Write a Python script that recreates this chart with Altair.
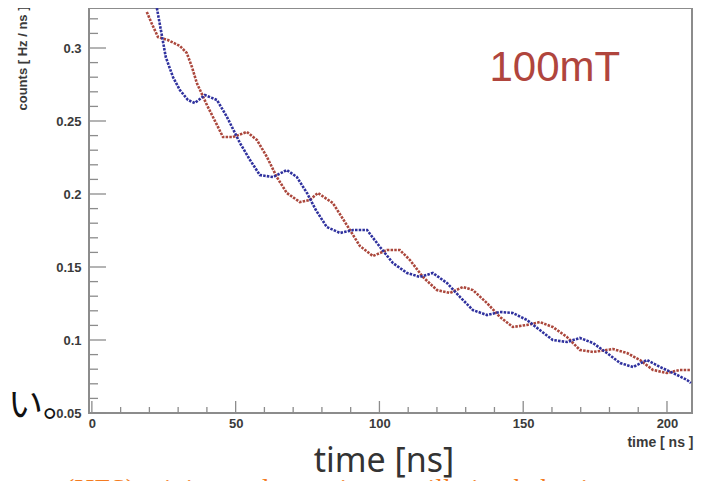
import altair as alt
import pandas as pd

# ---- data (time in ns, counts in Hz/ns) ----
red_t = [19.1, 20.9, 23.0, 26.4, 30.6, 33.0, 34.8, 36.5, 40.0, 43.5, 45.6, 49.0, 53.9, 57.4,
         60.9, 64.3, 67.8, 72.3, 75.8, 78.6, 83.8, 88.0, 93.2, 97.7, 102.6, 107.1, 110.6,
         115.1, 120.0, 124.5, 129.0, 132.5, 137.4, 141.9, 146.4, 151.3, 155.8, 160.3, 165.2,
         169.7, 174.3, 181.2, 186.1, 190.6, 195.1, 200.0, 204.5, 208.3]
red_v = [0.3247, 0.3164, 0.3075, 0.3055, 0.3014, 0.2966, 0.2870, 0.2760, 0.2610, 0.2473,
         0.2390, 0.2390, 0.2425, 0.2370, 0.2253, 0.2116, 0.2007, 0.1945, 0.1959, 0.2007,
         0.1938, 0.1808, 0.1644, 0.1575, 0.1616, 0.1616, 0.1548, 0.1432, 0.1342, 0.1322,
         0.1363, 0.1342, 0.1253, 0.1158, 0.1089, 0.1103, 0.1123, 0.1089, 0.1021, 0.0932,
         0.0918, 0.0938, 0.0911, 0.0863, 0.0795, 0.0774, 0.0795, 0.0795]

blue_t = [22.6, 24.0, 25.7, 28.2, 30.6, 33.4, 35.8, 39.3, 43.5, 47.0, 51.5, 55.0, 58.4, 63.0,
          67.8, 71.3, 74.8, 77.9, 81.7, 86.3, 90.8, 95.7, 100.2, 104.7, 109.6, 114.1, 118.6,
          123.5, 128.0, 132.5, 137.4, 141.9, 146.4, 151.3, 155.8, 160.3, 165.2, 169.7, 174.3,
          179.1, 183.7, 188.2, 193.0, 197.6, 202.1, 207.0, 208.3]
blue_v = [0.3274, 0.3123, 0.2938, 0.2801, 0.2712, 0.2644, 0.2623, 0.2678, 0.2644, 0.2527,
          0.2349, 0.2233, 0.2130, 0.2116, 0.2164, 0.2116, 0.2007, 0.1890, 0.1774, 0.1733,
          0.1753, 0.1753, 0.1637, 0.1527, 0.1459, 0.1432, 0.1459, 0.1390, 0.1295, 0.1205,
          0.1171, 0.1192, 0.1185, 0.1137, 0.1068, 0.1000, 0.0986, 0.1014, 0.0979, 0.0911,
          0.0842, 0.0815, 0.0863, 0.0815, 0.0774, 0.0726, 0.0705]

series_names = ["red", "blue"]
y_labels = [0.05, 0.1, 0.15, 0.2, 0.25, 0.3]
y_minor = [0.06, 0.07, 0.08, 0.09, 0.11, 0.12, 0.13, 0.14, 0.16, 0.17, 0.18, 0.19,
           0.21, 0.22, 0.23, 0.24, 0.26, 0.27, 0.28, 0.29, 0.31, 0.32]
x_labels = [0, 50, 100, 150, 200]
x_minor = [10, 20, 30, 40, 60, 70, 80, 90, 110, 120, 130, 140, 160, 170, 180, 190]

W, H = 603, 405
AX = "#8c8c8c"
LAB = "#3a3a3a"

df = pd.DataFrame({
    "t": red_t + blue_t,
    "v": red_v + blue_v,
    "s": [series_names[0]] * len(red_t) + [series_names[1]] * len(blue_t),
})

xs = alt.Scale(domain=[-1.0, 208.7], nice=False, zero=False)
ys = alt.Scale(domain=[0.05, 0.3274], nice=False, zero=False)

xaxis = alt.Axis(values=x_labels, format="d", tickSize=0, domain=False, grid=False,
                 labelFont="Liberation Sans", labelFontWeight="bold", labelFontSize=13,
                 labelColor=LAB, labelPadding=4, title="time [ ns ]",
                 titleFont="Liberation Sans", titleFontWeight="bold", titleFontSize=14,
                 titleColor=LAB, titleAnchor="end", titleAlign="right",
                 titleX=W + 1, titleY=29, titleBaseline="middle")
yaxis = alt.Axis(values=y_labels, format="~g", tickSize=0, domain=False, grid=False,
                 labelFont="Liberation Sans", labelFontWeight="bold", labelFontSize=13,
                 labelColor=LAB, labelPadding=8, title="counts [ Hz / ns ]",
                 titleFont="Liberation Sans", titleFontWeight="bold", titleFontSize=13,
                 titleColor=LAB, titleAngle=-90, titleAlign="right", titleBaseline="middle",
                 titleX=-67, titleY=-2)

X = alt.X("t:Q", scale=xs, axis=xaxis)
Y = alt.Y("v:Q", scale=ys, axis=yaxis)

lines = alt.Chart(df).mark_line(strokeWidth=2.6, strokeDash=[2.5, 1.2], clip=True).encode(
    x=X, y=Y,
    color=alt.Color("s:N", scale=alt.Scale(domain=series_names, range=["#ab473c", "#2f319e"]),
                    legend=None),
)

ymaj = alt.Chart(pd.DataFrame({"v": y_labels})).mark_rule(color=AX, strokeWidth=1.3).encode(
    y=Y, x=alt.value(0), x2=alt.value(17))
ymin = alt.Chart(pd.DataFrame({"v": y_minor})).mark_rule(color=AX, strokeWidth=1.3).encode(
    y=Y, x=alt.value(0), x2=alt.value(9))
xmaj = alt.Chart(pd.DataFrame({"t": x_labels})).mark_rule(color=AX, strokeWidth=1.3).encode(
    x=X, y=alt.value(H), y2=alt.value(H - 12))
xmin = alt.Chart(pd.DataFrame({"t": x_minor})).mark_rule(color=AX, strokeWidth=1.3).encode(
    x=X, y=alt.value(H), y2=alt.value(H - 6))

label_df = pd.DataFrame({"t": [161.0], "v": [0.286], "txt": ["100mT"]})
field_label = alt.Chart(label_df).mark_text(
    font="Liberation Sans", fontSize=42, color="#b0453d", baseline="middle", align="center"
).encode(x=X, y=Y, text="txt:N")

big_title = alt.Chart(pd.DataFrame({"txt": ["time [ns]"]})).mark_text(
    font="Noto Sans", fontSize=34, color="#333333", baseline="middle", align="center"
).encode(x=alt.value(295), y=alt.value(454), text="txt:N")

jp_text = alt.Chart(pd.DataFrame({"txt": ["たい。"]})).mark_text(
    font="Noto Sans CJK JP", fontSize=35, color="#111111", baseline="middle", align="right"
).encode(x=alt.value(-11), y=alt.value(398), text="txt:N")

orange_text = alt.Chart(pd.DataFrame({"txt": ["(HFS) mixing and muonium oscillation behavior are seen here"]})).mark_text(
    font="Liberation Serif", fontSize=28, color="#f47b20", baseline="alphabetic", align="left"
).encode(x=alt.value(-24), y=alt.value(490), text="txt:N")

chart = alt.layer(ymin, ymaj, xmin, xmaj, lines, field_label, big_title, jp_text, orange_text).properties(
    width=W, height=H,
    autosize=alt.AutoSizeParams(type="none"),
    padding={"left": 81, "top": 0, "right": 2, "bottom": 68},
    background="white",
).configure_view(stroke=AX, strokeWidth=2)

chart.save("out.html", embed_options={"renderer": "svg", "actions": False})
